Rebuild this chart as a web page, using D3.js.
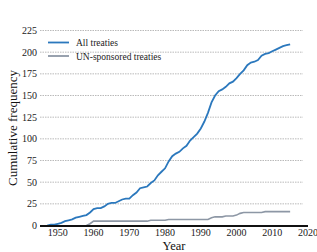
<!DOCTYPE html>
<html>
<head>
<meta charset="utf-8">
<script src="https://cdn.jsdelivr.net/npm/d3@7"></script>
<style>
  body { margin: 0; background: #fff; }
  text { font-family: "Liberation Serif", "DejaVu Serif", serif; }
</style>
</head>
<body>
<div class="chart"></div>
<script>
// Set Dimensions
const xSize = 317; const ySize = 252;

// data
const years = [1947,1948,1949,1950,1951,1952,1953,1954,1955,1956,1957,1958,1959,1960,1961,1962,1963,1964,1965,1966,1967,1968,1969,1970,1971,1972,1973,1974,1975,1976,1977,1978,1979,1980,1981,1982,1983,1984,1985,1986,1987,1988,1989,1990,1991,1992,1993,1994,1995,1996,1997,1998,1999,2000,2001,2002,2003,2004,2005,2006,2007,2008,2009,2010,2011,2012,2013,2014,2015];
const allTreaties = [0,1,1,2,3,5,6,7,9,10,11,12,15,19,20,20,22,25,26,26,28,30,31,31,35,38,43,44,45,49,52,58,62,66,74,80,83,85,89,92,98,102,106,112,120,130,142,150,155,157,160,164,166,170,175,179,185,188,189,191,196,198,199,201,203,205,207,208,209];
const unYears = [1958,1959,1960,1975,1976,1980,1981,1992,1993,1994,1996,1997,1999,2000,2001,2002,2007,2008,2015];
const unTreaties = [0,2,5,5,6,6,7,7,9,10,10,11,11,12,14,15,15,16,16];
const yTicks = [0,25,50,75,100,125,150,175,200,225];
const xTicks = [1950,1960,1970,1980,1990,2000,2010,2020];

const svg = d3.select(".chart")
    .append("svg")
    .attr("width", xSize)
    .attr("height", ySize);

const x = d3.scaleLinear()
    .domain([1945, 2020])
    .range([40, 308]);

const y = d3.scaleLinear()
    .domain([0, 225])
    .range([225.5, 30.5]);

// grid lines
svg.append("g")
    .selectAll("line")
    .data(yTicks.slice(1))
    .join("line")
    .attr("x1", 40).attr("x2", 303)
    .attr("y1", d => y(d)).attr("y2", d => y(d))
    .attr("stroke", "#a8a8a8")
    .attr("stroke-width", 0.8)
    .attr("stroke-dasharray", "1.5,1");

// left axis labels
svg.append("g")
    .selectAll("text")
    .data(yTicks)
    .join("text")
    .attr("x", 37)
    .attr("y", d => y(d) + 3.5)
    .attr("text-anchor", "end")
    .attr("font-size", "10px")
    .attr("fill", "#222")
    .text(d => d);

// bottom axis labels
svg.append("g")
    .selectAll("text")
    .data(xTicks)
    .join("text")
    .attr("x", d => x(d))
    .attr("y", 236)
    .attr("text-anchor", "middle")
    .attr("font-size", "10px")
    .attr("fill", "#222")
    .text(d => d);

// lines
const line = d3.line()
    .x(d => x(d[0]))
    .y(d => y(d[1]));

svg.append("path")
    .datum(unYears.map((d, i) => [d, unTreaties[i]]))
    .attr("fill", "none")
    .attr("stroke", "#8d97a5")
    .attr("stroke-width", 1.6)
    .attr("d", line);

svg.append("path")
    .datum(years.map((d, i) => [d, allTreaties[i]]))
    .attr("fill", "none")
    .attr("stroke", "#2b78bd")
    .attr("stroke-width", 1.8)
    .attr("d", line);

// bottom spine
svg.append("line")
    .attr("x1", 40).attr("x2", 308)
    .attr("y1", y(0) + 0.5).attr("y2", y(0) + 0.5)
    .attr("stroke", "#111")
    .attr("stroke-width", 1.8);

// axis titles
svg.append("text")
    .attr("x", 174)
    .attr("y", 249.5)
    .attr("text-anchor", "middle")
    .attr("font-size", "12.5px")
    .attr("fill", "#111")
    .text("Year");

svg.append("text")
    .attr("transform", "translate(17,128) rotate(-90)")
    .attr("text-anchor", "middle")
    .attr("font-size", "13px")
    .attr("fill", "#111")
    .text("Cumulative frequency");

// legend
const legend = [["All treaties", "#2b78bd"], ["UN-sponsored treaties", "#8d97a5"]];
const lg = svg.append("g");
legend.forEach(function(d, i) {
    lg.append("line")
        .attr("x1", 48).attr("x2", 69)
        .attr("y1", 42.5 + i * 13.5).attr("y2", 42.5 + i * 13.5)
        .attr("stroke", d[1])
        .attr("stroke-width", 1.8);
    lg.append("text")
        .attr("x", 76)
        .attr("y", 46 + i * 13.5)
        .attr("font-size", "9.5px")
        .attr("fill", "#222")
        .text(d[0]);
});
</script>
</body>
</html>
